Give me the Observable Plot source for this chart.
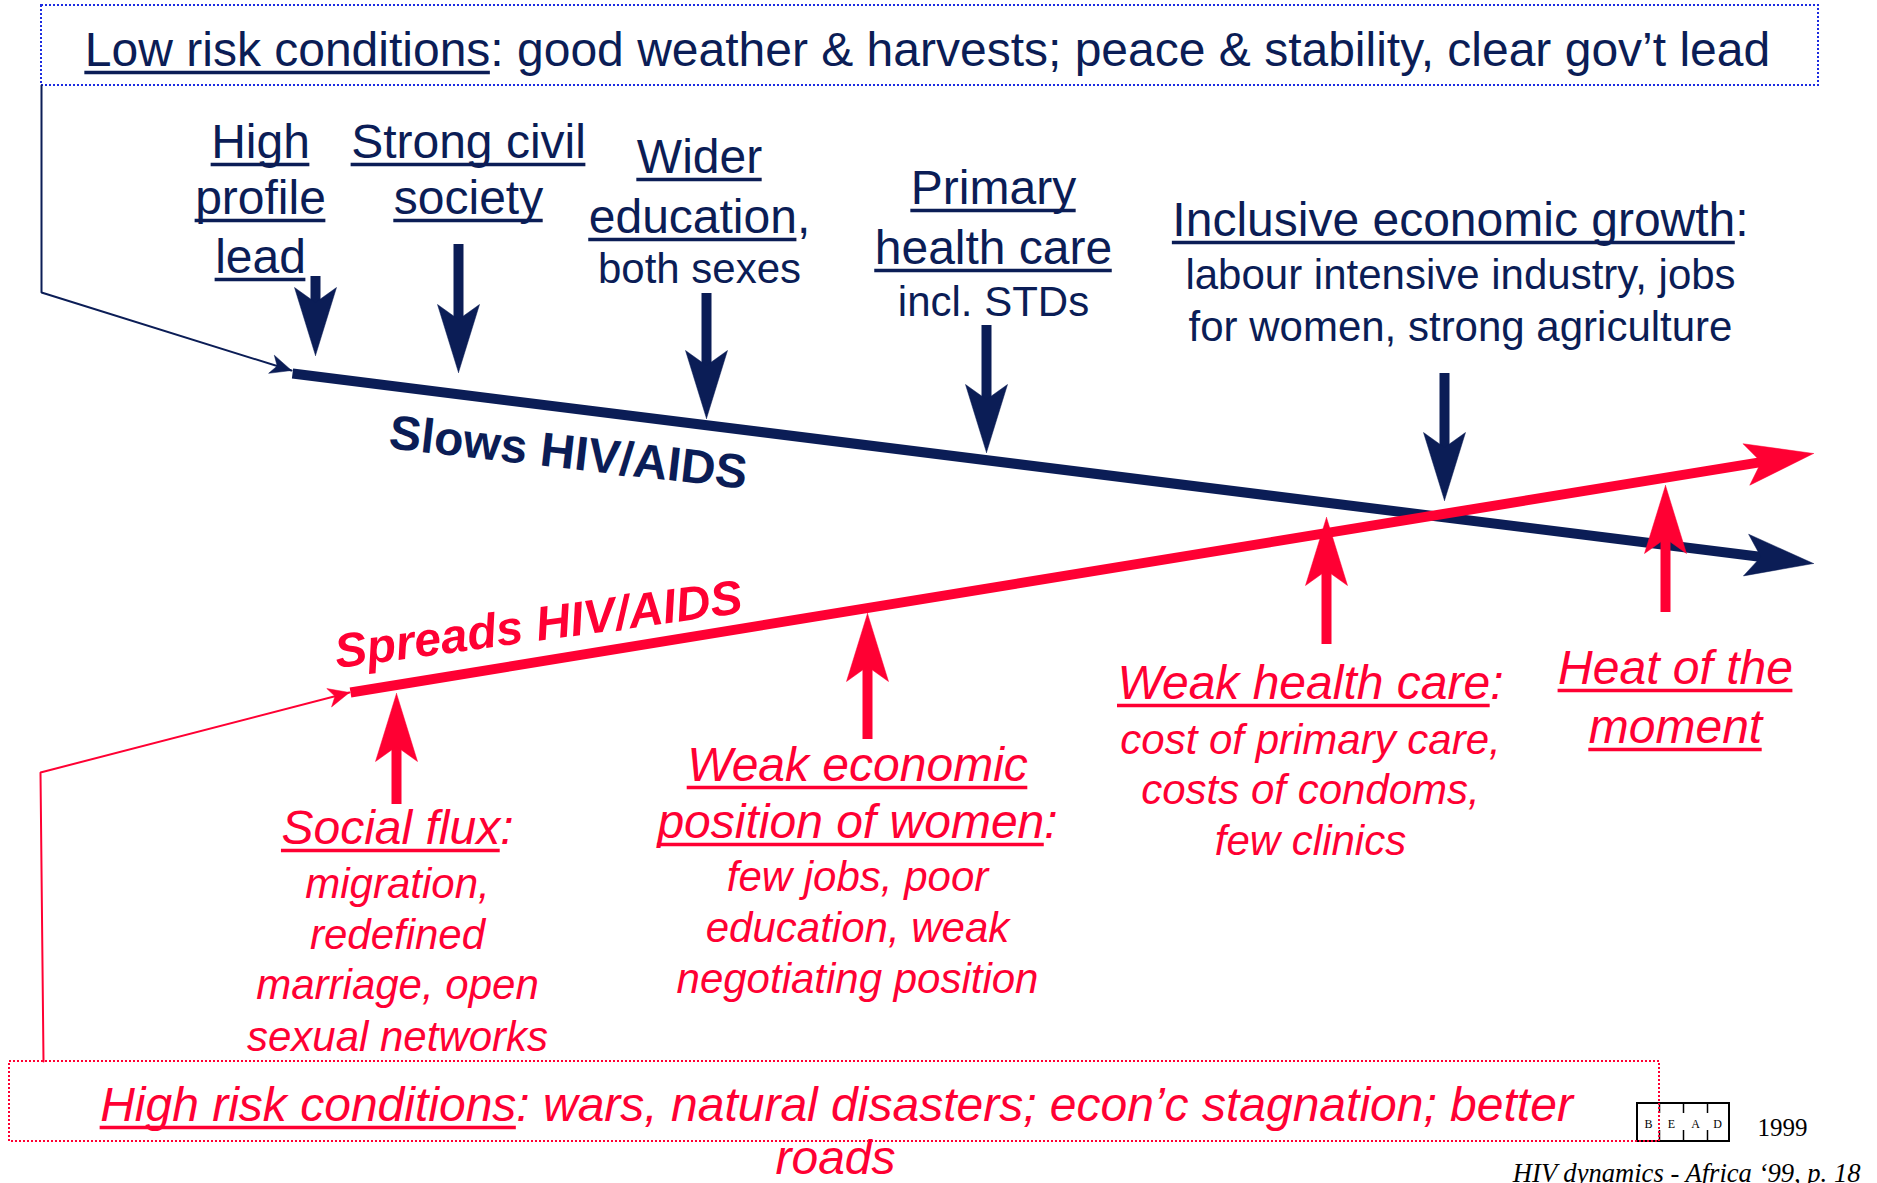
<!DOCTYPE html>
<html>
<head>
<meta charset="utf-8">
<script src="https://cdn.jsdelivr.net/npm/d3@7"></script>
<script src="https://cdn.jsdelivr.net/npm/@observablehq/plot@0.6"></script>
<style>
  html, body { margin: 0; padding: 0; background: #fff; overflow: hidden; }
  svg { display: block; }
</style>
</head>
<body>
<div id="chart"></div>
<script>
// ---------- colours & fonts ----------
const NAVY = "#0b1d56";
const RED = "#ff0033";
const BLUE_DOT = "#1c2be0";
const SANS = "'Liberation Sans', Arial, Helvetica, sans-serif";
const SERIF = "'Liberation Serif', 'Times New Roman', serif";

// ---------- diagram data (units of the 1877 x 1183 diagram space) ----------
// Two trends
const trendLabels = ["Slows HIV/AIDS", "Spreads HIV/AIDS"];
const trendColors = [NAVY, RED];
const trendFrom = [[292, 373], [350, 692]];
const trendTo = [[1813, 563], [1813, 453]];
const trendLabelAt = [[566, 468], [540, 640]];
const trendLabelAngle = [6.5, -7.8];

// Factor arrows acting on the trends
const factorNames = ["High profile lead", "Strong civil society", "Wider education", "Primary health care",
  "Inclusive economic growth", "Social flux", "Weak economic position of women", "Weak health care", "Heat of the moment"];
const factorTrend = [0, 0, 0, 0, 0, 1, 1, 1, 1];
const factorX = [315, 458, 706, 986, 1444, 396, 867, 1326, 1665];
const factorTail = [276, 244, 293, 325, 373, 804, 739, 644, 612];
const factorTip = [355, 372, 418, 452, 500, 693, 613, 517, 485];

// Condition boxes and their connectors into the trends
const conditionNames = ["Low risk conditions", "High risk conditions"];
const conditionColors = [BLUE_DOT, RED];
const boxX1 = [41, 9], boxX2 = [1818, 1659], boxY1 = [5, 1061], boxY2 = [85, 1141];
const connectorPaths = [
  [[41, 85], [41, 292], [291, 370]],
  [[43, 1061], [40, 772], [349, 692]]
];

// Text lines: [colour group, font size, centre x, baseline y, text with [underlined] parts]
const labelLines = [
  ["N", 48, 927, 65, "[Low risk conditions]: good weather & harvests; peace & stability, clear gov’t lead"],
  ["N", 48, 260, 157, "[High]"],
  ["N", 48, 260, 213, "[profile]"],
  ["N", 48, 260, 272, "[lead]"],
  ["N", 48, 468, 157, "[Strong civil]"],
  ["N", 48, 468, 213, "[society]"],
  ["N", 48, 699, 172, "[Wider]"],
  ["N", 48, 699, 232, "[education],"],
  ["N", 42, 699, 282, "both sexes"],
  ["N", 48, 993, 203, "[Primary]"],
  ["N", 48, 993, 263, "[health care]"],
  ["N", 42, 993, 315, "incl. STDs"],
  ["N", 48, 1460, 235, "[Inclusive economic growth]:"],
  ["N", 42, 1460, 288, "labour intensive industry, jobs"],
  ["N", 42, 1460, 340, "for women, strong agriculture"],
  ["R", 48, 397, 843, "[Social flux]:"],
  ["R", 42, 397, 897, "migration,"],
  ["R", 42, 397, 948, "redefined"],
  ["R", 42, 397, 998, "marriage, open"],
  ["R", 42, 397, 1050, "sexual networks"],
  ["R", 48, 857, 780, "[Weak economic]"],
  ["R", 48, 857, 837, "[position of women]:"],
  ["R", 42, 857, 890, "few jobs, poor"],
  ["R", 42, 857, 941, "education, weak"],
  ["R", 42, 857, 992, "negotiating position"],
  ["R", 48, 1310, 698, "[Weak health care]:"],
  ["R", 42, 1310, 753, "cost of primary care,"],
  ["R", 42, 1310, 803, "costs of condoms,"],
  ["R", 42, 1310, 854, "few clinics"],
  ["R", 48, 1675, 683, "[Heat of the]"],
  ["R", 48, 1675, 742, "[moment]"],
  ["R", 48, 836, 1120, "[High risk conditions]: wars, natural disasters; econ’c stagnation; better"],
  ["R", 48, 835, 1173, "roads"]
];

// Footer
const logoLetters = ["B", "E", "A", "D"];
const logoLetterX = [1648, 1671, 1695, 1717];
const logoDividerX = [1659, 1683, 1707];
const footerYear = "1999";
const footerCaption = "HIV dynamics - Africa ‘99, p. 18";

// ---------- derived geometry ----------
const HEAD = {L: 68, W: 21, N: 53};
const SMALL = {L: 21, W: 9.5, N: 15};

function unit(from, to) {
  const dx = to[0] - from[0], dy = to[1] - from[1], len = Math.hypot(dx, dy);
  return [dx / len, dy / len];
}
function headPolygon(id, tip, from, h) {
  const [ux, uy] = unit(from, tip), px = -uy, py = ux;
  return [
    [tip[0], tip[1]],
    [tip[0] - h.L * ux + h.W * px, tip[1] - h.L * uy + h.W * py],
    [tip[0] - h.N * ux, tip[1] - h.N * uy],
    [tip[0] - h.L * ux - h.W * px, tip[1] - h.L * uy - h.W * py],
    [tip[0], tip[1]]
  ].map(([x, y]) => ({id, x, y}));
}

const groups = [0, 1].map(g => {
  const heads = [], shafts = [], trendLine = [], connector = [];
  const cp = connectorPaths[g];
  cp.forEach(([x, y]) => connector.push({x, y}));
  heads.push(...headPolygon(`c${g}`, cp[cp.length - 1], cp[cp.length - 2], SMALL));
  const [ux, uy] = unit(trendFrom[g], trendTo[g]);
  trendLine.push({x: trendFrom[g][0], y: trendFrom[g][1]});
  trendLine.push({x: trendTo[g][0] - (HEAD.N - 3) * ux, y: trendTo[g][1] - (HEAD.N - 3) * uy});
  heads.push(...headPolygon(`t${g}`, trendTo[g], trendFrom[g], HEAD));
  factorNames.forEach((name, i) => {
    if (factorTrend[i] !== g) return;
    const dir = Math.sign(factorTip[i] - factorTail[i]);
    shafts.push({name, x: factorX[i], y1: factorTail[i], y2: factorTip[i] - dir * (HEAD.N - 3)});
    heads.push(...headPolygon(`f${i}`, [factorX[i], factorTip[i]], [factorX[i], factorTail[i]], HEAD));
  });
  return {heads, shafts, trendLine, connector, color: trendColors[g]};
});

// text layout with measured widths
const ctx = document.createElement("canvas").getContext("2d");
function measure(text, size, italic) {
  ctx.font = `${italic ? "italic " : ""}${size}px 'Liberation Sans', Arial, sans-serif`;
  return ctx.measureText(text).width;
}
const textRows = [], underlineRows = [];
labelLines.forEach(([kind, size, cx, y, str]) => {
  const parts = [];
  const re = /\[([^\]]*)\]|([^\[]+)/g;
  let m;
  while ((m = re.exec(str))) parts.push(m[1] != null ? {t: m[1], u: true} : {t: m[2], u: false});
  const italic = kind === "R";
  const widths = parts.map(p => measure(p.t, size, italic));
  let x = cx - d3.sum(widths) / 2;
  parts.forEach((p, i) => {
    textRows.push({kind, size, x, y, text: p.t});
    if (p.u) underlineRows.push({kind, x1: x, x2: x + widths[i], y: y + 0.145 * size, size});
    x += widths[i];
  });
});

const boxes = conditionNames.map((name, i) => ({name, x1: boxX1[i], x2: boxX2[i], y1: boxY1[i], y2: boxY2[i], color: conditionColors[i]}));

// ---------- marks ----------
const marks = [];

// BEAD logo (beneath the red dotted box)
marks.push(Plot.rect([{x1: 1637, x2: 1729, y1: 1103, y2: 1141}], {x1: "x1", x2: "x2", y1: "y1", y2: "y2", fill: "white", stroke: "black", strokeWidth: 2}));
marks.push(Plot.ruleX(logoDividerX, {x: d => d, y1: 1103, y2: 1113, stroke: "black", strokeWidth: 1.5}));
marks.push(Plot.ruleX(logoDividerX, {x: d => d, y1: 1130, y2: 1141, stroke: "black", strokeWidth: 1.5}));
marks.push(Plot.text(logoLetters, {x: (d, i) => logoLetterX[i], y: 1127, text: d => d, fontFamily: SERIF, fontSize: 12, fill: "black", lineAnchor: "bottom"}));
marks.push(Plot.text([footerYear], {x: 1757, y: 1135, text: d => d, fontFamily: SERIF, fontSize: 25, fill: "black", textAnchor: "start", lineAnchor: "bottom"}));
marks.push(Plot.text([footerCaption], {x: 1860, y: 1181, text: d => d, fontFamily: SERIF, fontStyle: "italic", fontSize: 26.6, fill: "black", textAnchor: "end", lineAnchor: "bottom"}));

// condition boxes
boxes.forEach(b => {
  marks.push(Plot.rect([b], {x1: "x1", x2: "x2", y1: "y1", y2: "y2", fill: "none", stroke: b.color, strokeWidth: 2, strokeDasharray: "2,2"}));
});

// arrows, navy first then red (red is on top)
groups.forEach(g => {
  marks.push(Plot.line(g.connector, {x: "x", y: "y", stroke: g.color, strokeWidth: 2, curve: "linear", strokeLinejoin: "miter"}));
  marks.push(Plot.line(g.trendLine, {x: "x", y: "y", stroke: g.color, strokeWidth: 10, strokeLinecap: "butt"}));
  marks.push(Plot.ruleX(g.shafts, {x: "x", y1: "y1", y2: "y2", stroke: g.color, strokeWidth: 10}));
  marks.push(Plot.line(g.heads, {x: "x", y: "y", z: "id", fill: g.color, stroke: g.color, strokeWidth: 0.5, strokeLinejoin: "miter"}));
});

// trend labels
trendLabels.forEach((t, i) => {
  marks.push(Plot.text([t], {
    x: trendLabelAt[i][0], y: trendLabelAt[i][1], text: d => d, rotate: trendLabelAngle[i],
    fontFamily: SANS, fontWeight: "bold", fontStyle: i === 1 ? "italic" : "normal",
    fontSize: 48, fill: trendColors[i], textAnchor: "middle", lineAnchor: "bottom"
  }));
});

// labels
for (const kind of ["N", "R"]) {
  for (const size of [48, 42]) {
    const rows = textRows.filter(r => r.kind === kind && r.size === size);
    marks.push(Plot.text(rows, {
      x: "x", y: "y", text: "text", fontFamily: SANS, fontSize: size,
      fontStyle: kind === "R" ? "italic" : "normal", fill: kind === "R" ? RED : NAVY,
      textAnchor: "start", lineAnchor: "bottom"
    }));
  }
  marks.push(Plot.ruleY(underlineRows.filter(r => r.kind === kind), {
    x1: "x1", x2: "x2", y: "y", stroke: kind === "R" ? RED : NAVY, strokeWidth: 3.5
  }));
}

const chart = Plot.plot({
  width: 1877,
  height: 1183,
  margin: 0,
  x: {domain: [0, 1877], range: [0, 1877], axis: null},
  y: {domain: [0, 1183], range: [0, 1183], axis: null},
  style: {background: "#fff", overflow: "hidden"},
  marks
});
document.getElementById("chart").appendChild(chart);
</script>
</body>
</html>
